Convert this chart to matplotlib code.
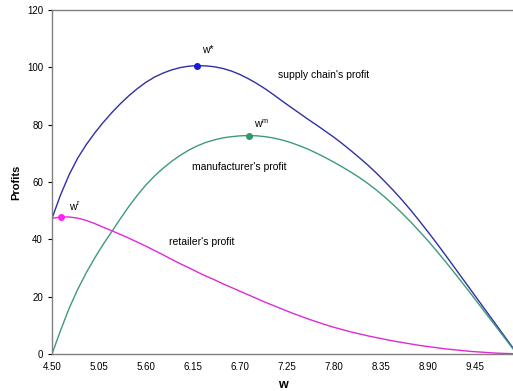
import matplotlib
matplotlib.use("Agg")
import matplotlib.pyplot as plt
import numpy as np

plt.rcParams['font.family'] = ['Liberation Sans', 'DejaVu Sans']

# wholesale price w and the three profit curves
w = [4.5, 4.6, 4.7, 4.8, 4.9, 5.0, 5.1, 5.2, 5.3, 5.4,
     5.5, 5.6, 5.7, 5.8, 5.9, 6.0, 6.1, 6.2, 6.3, 6.4,
     6.5, 6.6, 6.7, 6.8, 6.9, 7.0, 7.1, 7.2, 7.3, 7.4,
     7.5, 7.6, 7.7, 7.8, 7.9, 8.0, 8.1, 8.2, 8.3, 8.4,
     8.5, 8.6, 8.7, 8.8, 8.9, 9.0, 9.1, 9.2, 9.3, 9.4,
     9.5, 9.6, 9.7, 9.8, 9.9]

supply_chain = [47.3, 55.5, 62.5, 68.3, 73.0, 77.1, 80.8, 84.2, 87.3, 90.1,
                92.6, 94.8, 96.6, 98.0, 99.1, 99.9, 100.4, 100.6, 100.5, 100.2,
                99.6, 98.7, 97.5, 96.0, 94.3, 92.4, 90.3, 88.1, 86.0, 83.9,
                81.8, 79.8, 77.7, 75.6, 73.3, 70.9, 68.4, 65.8, 63.0, 60.0,
                56.9, 53.6, 50.1, 46.4, 42.6, 38.7, 34.7, 30.6, 26.5, 22.4,
                18.3, 14.2, 10.1, 6.0, 1.9]

manufacturer = [0.0, 8.2, 15.9, 22.5, 28.3, 33.5, 38.3, 42.7, 47.2, 51.5,
                55.4, 59.0, 62.1, 64.8, 67.2, 69.3, 71.1, 72.6, 73.8, 74.7,
                75.4, 75.8, 76.1, 76.2, 76.1, 75.8, 75.3, 74.6, 73.7, 72.6,
                71.4, 70.0, 68.5, 66.9, 65.2, 63.4, 61.5, 59.4, 57.1, 54.6,
                51.9, 49.0, 46.0, 42.8, 39.5, 36.0, 32.4, 28.7, 24.9, 21.1,
                17.2, 13.3, 9.4, 5.5, 1.6]

retailer = [47.3, 47.8, 47.8, 47.4, 46.6, 45.5, 44.2, 43.0, 41.7, 40.4,
            39.0, 37.6, 36.1, 34.6, 33.0, 31.5, 30.1, 28.6, 27.2, 25.9,
            24.5, 23.2, 21.9, 20.6, 19.3, 18.0, 16.8, 15.6, 14.4, 13.3,
            12.2, 11.2, 10.2, 9.3, 8.5, 7.7, 7.0, 6.3, 5.7, 5.1,
            4.5, 4.0, 3.5, 3.0, 2.6, 2.2, 1.8, 1.5, 1.2, 0.9,
            0.7, 0.5, 0.3, 0.2, 0.1]

xticks = [4.50, 5.05, 5.60, 6.15, 6.70, 7.25, 7.80, 8.35, 8.90, 9.45]
yticks = [0, 20, 40, 60, 80, 100, 120]

fig = plt.figure(figsize=(5.13, 3.91), dpi=100)
ax = fig.add_axes([52 / 513, 37 / 391, 461 / 513, 344 / 391])

blue = '#2f2fa8'
green = '#3d9a7c'
pink = '#e02ad4'

ax.plot(w, supply_chain, color=blue, lw=1.0)
ax.plot(w, manufacturer, color=green, lw=1.0)
ax.plot(w, retailer, color=pink, lw=1.0)

# optimum points
for series, col in [(supply_chain, '#1a1adc'), (manufacturer, '#2e9a6a'), (retailer, '#ff22ee')]:
    i = int(np.argmax(series))
    ax.plot(w[i], series[i], 'o', color=col, ms=4)

ax.text(6.26, 106, 'w*', fontsize=7.5, va='center')
ax.text(6.86, 80.2, r'w$^{\mathregular{m}}$', fontsize=7.5, va='center')
ax.text(4.70, 51.3, r'w$^{\mathregular{r}}$', fontsize=7.5, va='center')

ax.text(7.145, 97.3, "supply chain's profit", fontsize=7.5, va='center')
ax.text(6.138, 65.2, "manufacturer's profit", fontsize=7.5, va='center')
ax.text(5.87, 39.1, "retailer's profit", fontsize=7.5, va='center')

ax.set_xlim(4.5, 9.895)
ax.set_ylim(0, 120)
ax.set_xticks(xticks)
ax.set_xticklabels(['%.2f' % t for t in xticks])
ax.set_yticks(yticks)
ax.tick_params(axis='both', labelsize=7, colors='black', length=3, width=0.8)
ax.tick_params(axis='x', length=0, pad=6)
for s in ['left', 'bottom', 'top']:
    ax.spines[s].set_color('#808080')
    ax.spines[s].set_linewidth(1.0)
ax.spines['right'].set_visible(False)

ax.set_xlabel('w', fontsize=9, fontweight='bold', labelpad=5)
ax.set_ylabel('Profits', fontsize=8, fontweight='bold', labelpad=4)

fig.savefig('out.png', dpi=100)
